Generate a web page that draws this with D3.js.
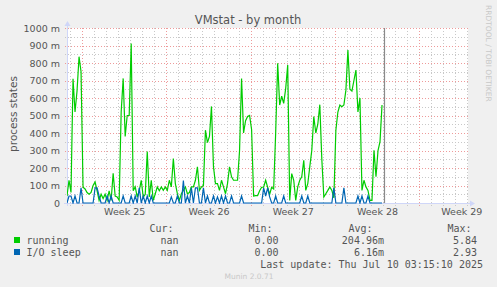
<!DOCTYPE html>
<html lang="en">
<head>
<meta charset="UTF-8">
<script src="https://cdnjs.cloudflare.com/ajax/libs/d3/7.8.5/d3.min.js"></script>
<style>
  body { margin: 0; background: #f0f0f0; }
  svg text { font-family: "DejaVu Sans", sans-serif; fill: #555; }
  svg text.mono { font-family: "DejaVu Sans Mono", monospace; font-size: 10px; }
</style>
</head>
<body>
<script>
// samples every 4 hours, values in milli (m)
const startTime = new Date(2025, 5, 14, 18, 0);
const endTime = new Date(2025, 6, 18, 1, 25);
const stepHours = 4;

const running = [
  40, 130, 60, 710, 520, 640, 836, 750, 90, 80,
  60, 50, 60, 100, 120, 70, 15, 50, 25, 50,
  15, 70, 15, 170, 40, 34, 15, 520, 712, 380,
  500, 500, 912, 70, 92, 34, 70, 130, 34, 50,
  294, 34, 130, 15, 53, 92, 70, 92, 72, 92,
  72, 130, 92, 254, 111, 53, 15, 53, 72, 92,
  53, 60, 92, 92, 130, 207, 72, 92, 100, 416,
  345, 380, 552, 207, 111, 111, 72, 130, 92, 53,
  111, 207, 150, 130, 130, 130, 300, 712, 400, 470,
  494, 500, 420, 40, 42, 42, 70, 90, 90, 130,
  90, 50, 90, 80, 400, 798, 560, 610, 569, 655,
  788, 15, 168, 130, 15, 92, 130, 150, 244, 72,
  110, 207, 301, 494, 400, 450, 562, 250, 34, 53,
  72, 92, 72, 30, 416, 520, 560, 550, 560, 645,
  874, 650, 640, 700, 760, 520, 600, 72, 130, 92,
  72, 15, 15, 301, 150, 300, 350, 560, 5840
];

const ioSleep = [
  0, 40, 40, 0, 40, 0, 0, 86, 0, 0,
  0, 0, 0, 0, 86, 86, 40, 0, 0, 0,
  40, 0, 40, 0, 0, 0, 0, 0, 40, 0,
  0, 0, 40, 0, 40, 0, 86, 0, 40, 0,
  40, 0, 40, 0, 0, 0, 0, 0, 0, 0,
  0, 0, 35, 0, 0, 40, 0, 0, 128, 0,
  40, 0, 86, 0, 86, 86, 0, 0, 86, 0,
  40, 0, 0, 40, 0, 35, 0, 40, 0, 40,
  0, 0, 40, 0, 0, 0, 0, 40, 0, 0,
  0, 0, 0, 0, 0, 0, 0, 0, 86, 40,
  86, 35, 0, 0, 40, 0, 0, 0, 40, 0,
  0, 0, 0, 0, 0, 0, 0, 40, 0, 0,
  40, 0, 0, 0, 0, 0, 0, 0, 0, 0,
  0, 0, 0, 86, 0, 0, 0, 0, 86, 0,
  0, 0, 0, 0, 0, 40, 0, 40, 0, 0,
  40, 0, 0, 0, 0, 0, 0, 0, 2930
];

const yTicks = [0, 100, 200, 300, 400, 500, 600, 700, 800, 900, 1000];
const yMinor = [50, 150, 250, 350, 450, 550, 650, 750, 850, 950];
const weekLabels = ["Week 25", "Week 26", "Week 27", "Week 28", "Week 29"];

const seriesNames = ["running", "I/O sleep"];
const seriesColors = ["#00cc00", "#0066b3"];
const legendHeads = ["Cur:", "Min:", "Avg:", "Max:"];
const curVals = ["nan", "nan"];
const minVals = ["0.00", "0.00"];
const avgVals = ["204.96m", "6.16m"];
const maxVals = ["5.84", "2.93"];

const w = 497, h = 287;
const plot = { l: 67, r: 468, t: 28, b: 203 };

const svg = d3.select("body").append("svg")
  .attr("width", w)
  .attr("height", h);

svg.append("rect").attr("width", w).attr("height", h).attr("fill", "#f0f0f0");
svg.append("rect")
  .attr("x", plot.l).attr("y", plot.t)
  .attr("width", plot.r - plot.l).attr("height", plot.b - plot.t)
  .attr("fill", "#fff");

const x = d3.scaleTime().domain([startTime, endTime]).range([plot.l, plot.r]);
const y = d3.scaleLinear().domain([0, 1000]).range([plot.b, plot.t]);
const timeAt = i => new Date(+startTime + i * stepHours * 3600e3);

// grid
const grid = svg.append("g").attr("shape-rendering", "crispEdges");
const days = d3.timeDay.range(startTime, endTime).filter(d => d.getDay() !== 1);
const mondays = d3.timeMonday.range(startTime, endTime);
const px = v => Math.round(v) + 0.5;
const minorCol = "#c8c8c8", majorCol = "#ee9a9a";

grid.selectAll(".vmin").data(days).enter().append("line")
  .attr("x1", d => px(x(d))).attr("x2", d => px(x(d)))
  .attr("y1", plot.t).attr("y2", plot.b + 3)
  .attr("stroke", minorCol).attr("stroke-dasharray", "1,2");
grid.selectAll(".hmin").data(yMinor).enter().append("line")
  .attr("x1", plot.l - 2).attr("x2", plot.r)
  .attr("y1", d => px(y(d))).attr("y2", d => px(y(d)))
  .attr("stroke", minorCol).attr("stroke-dasharray", "1,2");
grid.selectAll(".vmaj").data(mondays).enter().append("line")
  .attr("x1", d => px(x(d))).attr("x2", d => px(x(d)))
  .attr("y1", plot.t).attr("y2", plot.b + 3)
  .attr("stroke", majorCol).attr("stroke-dasharray", "1,2");
grid.selectAll(".hmaj").data(yTicks.filter(d => d > 0)).enter().append("line")
  .attr("x1", plot.l - 2).attr("x2", plot.r)
  .attr("y1", d => px(y(d))).attr("y2", d => px(y(d)))
  .attr("stroke", majorCol).attr("stroke-dasharray", "1,2");

// axis lines with arrows
const axisCol = "#cfd6f8";
svg.append("line").attr("x1", plot.l + 0.5).attr("x2", plot.l + 0.5)
  .attr("y1", plot.b + 3).attr("y2", plot.t - 5).attr("stroke", axisCol);
svg.append("path")
  .attr("d", `M${plot.l - 2.5},${plot.t - 2} L${plot.l + 0.5},${plot.t - 7} L${plot.l + 3.5},${plot.t - 2} Z`)
  .attr("fill", axisCol);
svg.append("line").attr("x1", plot.l - 3).attr("x2", plot.r + 5)
  .attr("y1", plot.b + 0.5).attr("y2", plot.b + 0.5).attr("stroke", axisCol);
svg.append("path")
  .attr("d", `M${plot.r + 2},${plot.b - 2.5} L${plot.r + 7},${plot.b + 0.5} L${plot.r + 2},${plot.b + 3.5} Z`)
  .attr("fill", axisCol);

// axes labels
const yAxis = d3.axisLeft(y).tickValues(yTicks).tickSize(0).tickPadding(7)
  .tickFormat(d => d === 0 ? "0" : d + " m");
const gy = svg.append("g").attr("transform", `translate(${plot.l},0)`).call(yAxis);
gy.select(".domain").remove();
gy.selectAll("text").attr("font-size", "9.5px").attr("font-family", null).style("fill", "#555");

const weekCenters = mondays.map(d => new Date(+d + 3.5 * 86400e3));
const xAxis = d3.axisBottom(x).tickValues(weekCenters).tickSize(0).tickPadding(5)
  .tickFormat((d, i) => weekLabels[i]);
const gx = svg.append("g").attr("transform", `translate(0,${plot.b})`).call(xAxis);
gx.select(".domain").remove();
gx.selectAll("text").attr("font-size", "9.5px").attr("font-family", null).style("fill", "#555");

// data lines
svg.append("clipPath").attr("id", "clip").append("rect")
  .attr("x", plot.l).attr("y", plot.t)
  .attr("width", plot.r - plot.l).attr("height", plot.b - plot.t + 1);

const last = running.length - 1;
const line = d3.line().x((d, i) => x(timeAt(i))).y(d => y(d));
[running, ioSleep].forEach((s, k) => {
  svg.append("path")
    .datum(s.slice(0, last))
    .attr("clip-path", "url(#clip)")
    .attr("fill", "none")
    .attr("stroke", seriesColors[k])
    .attr("stroke-width", 1.2)
    .attr("d", line);
});
// final sample: both series spike off the chart, drawn as one rule
svg.append("line")
  .attr("clip-path", "url(#clip)")
  .attr("x1", px(x(timeAt(last)))).attr("x2", px(x(timeAt(last))))
  .attr("y1", y(0)).attr("y2", y(Math.max(running[last], ioSleep[last])))
  .attr("stroke", "#8a8a8a").attr("stroke-width", 1.2);

// titles
svg.append("text").attr("x", 248).attr("y", 23.5).attr("text-anchor", "middle")
  .attr("font-size", "11.5px").text("VMstat - by month");
svg.append("text").attr("transform", "translate(16.5,114) rotate(-90)")
  .attr("text-anchor", "middle").attr("font-size", "10.5px").text("process states");
svg.append("text").attr("transform", "translate(485.5,5) rotate(90)")
  .attr("font-size", "7.5px").style("fill", "#c8c8c8").text("RRDTOOL / TOBI OETIKER");

// legend
const headX = [149.5, 248.5, 348.5, 447.5];
legendHeads.forEach((t, i) => {
  svg.append("text").attr("class", "mono").attr("x", headX[i]).attr("y", 231.5).text(t);
});
const rowY = [243.5, 255.5];
seriesNames.forEach((n, k) => {
  svg.append("rect").attr("x", 14).attr("y", rowY[k] - 6.5).attr("width", 6).attr("height", 6)
    .attr("fill", seriesColors[k]);
  svg.append("text").attr("class", "mono").attr("x", 26.5).attr("y", rowY[k]).text(n);
  [[curVals, 178.5], [minVals, 278.5], [avgVals, 384], [maxVals, 477]].forEach(([vals, xe]) => {
    svg.append("text").attr("class", "mono").attr("x", xe).attr("y", rowY[k])
      .attr("text-anchor", "end").text(vals[k]);
  });
});
svg.append("text").attr("class", "mono").attr("x", 483).attr("y", 267.5)
  .attr("text-anchor", "end").text("Last update: Thu Jul 10 03:15:10 2025");
svg.append("text").attr("x", 249).attr("y", 278.5).attr("text-anchor", "middle")
  .attr("font-size", "7.5px").style("fill", "#c8c8c8").text("Munin 2.0.71");
</script>
</body>
</html>
